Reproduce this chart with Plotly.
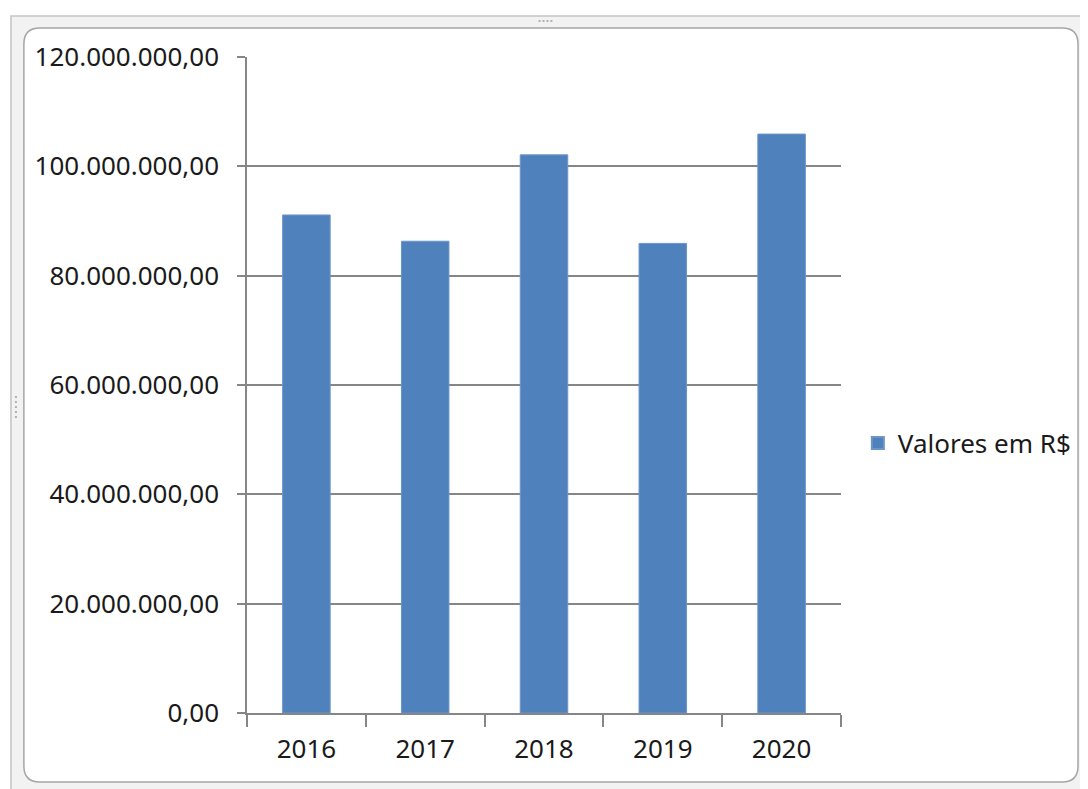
import plotly.graph_objects as go

years = ["2016", "2017", "2018", "2019", "2020"]
values = [91_100_000, 86_300_000, 102_100_000, 85_900_000, 105_900_000]
series_name = "Valores em R$"
y_tickvals = [0, 20_000_000, 40_000_000, 60_000_000, 80_000_000, 100_000_000, 120_000_000]
y_ticktext = ["0,00", "20.000.000,00", "40.000.000,00", "60.000.000,00",
              "80.000.000,00", "100.000.000,00", "120.000.000,00"]

# page has an 8px body margin; figure is sized so it ends at the window edge
OFF = 8
W, H = 1088 - OFF, 789 - OFF
# plot area in page pixels
L, R, T, B = 247, 846, 57, 713


def px(x):
    return (x - L) / (R - L)


def py(y):
    return (B - y) / (B - T)


def rrect(x0, y0, x1, y1, r):
    p = [
        f"M {px(x0 + r)} {py(y0)}",
        f"L {px(x1 - r)} {py(y0)}",
        f"Q {px(x1)} {py(y0)} {px(x1)} {py(y0 + r)}",
        f"L {px(x1)} {py(y1 - r)}",
        f"Q {px(x1)} {py(y1)} {px(x1 - r)} {py(y1)}",
        f"L {px(x0 + r)} {py(y1)}",
        f"Q {px(x0)} {py(y1)} {px(x0)} {py(y1 - r)}",
        f"L {px(x0)} {py(y0 + r)}",
        f"Q {px(x0)} {py(y0)} {px(x0 + r)} {py(y0)}",
        "Z",
    ]
    return " ".join(p)


shapes = [
    dict(type="rect", xref="paper", yref="paper", x0=px(9), y0=py(16), x1=px(1100), y1=py(800),
         fillcolor="#F2F2F2", line=dict(color="#C4C4C4", width=1.5), layer="below"),
    dict(type="path", xref="paper", yref="paper", path=rrect(22, 28, 1085, 782, 16),
         fillcolor="white", line=dict(color="#A6A6A6", width=1.5), layer="below"),
]
# small grip dots
for gx in [541, 545, 549, 553]:
    shapes.append(dict(type="rect", xref="paper", yref="paper", x0=px(gx), x1=px(gx + 2),
                       y0=py(20), y1=py(22), fillcolor="#B0B0B0", line=dict(width=0), layer="below"))
for gy in [396, 401, 406, 411, 416]:
    shapes.append(dict(type="rect", xref="paper", yref="paper", x0=px(13), x1=px(15),
                       y0=py(gy), y1=py(gy + 2), fillcolor="#B0B0B0", line=dict(width=0), layer="below"))

fig = go.Figure()
fig.add_trace(go.Bar(
    x=years, y=values, name=series_name,
    marker=dict(color="#4F81BD", line=dict(color="#6C95C8", width=1)),
    showlegend=True,
))

font_family = "Noto Sans, DejaVu Sans, sans-serif"

fig.update_layout(
    width=W, height=H,
    margin=dict(l=L - OFF, r=W - (R - OFF), t=T - OFF, b=H - (B - OFF), pad=0),
    paper_bgcolor="white", plot_bgcolor="white",
    bargap=0.6,
    font=dict(family=font_family, size=26, color="#1A1A1A"),
    shapes=shapes,
    showlegend=True,
    legend=dict(x=px(863), xanchor="left", y=py(443), yanchor="middle",
                font=dict(size=26, color="#1A1A1A"), bgcolor="rgba(0,0,0,0)",
                itemsizing="constant"),
    xaxis=dict(
        type="category", showline=True, linecolor="#868686", linewidth=1.5,
        ticks="outside", tickson="boundaries", ticklen=12, tickcolor="#868686", tickwidth=1.5,
        showgrid=False, tickfont=dict(size=26, color="#1A1A1A"),
        ticklabelstandoff=12,
    ),
    yaxis=dict(
        range=[0, 120_000_000], tickvals=y_tickvals, ticktext=y_ticktext,
        showline=True, linecolor="#868686", linewidth=1.5,
        ticks="outside", ticklen=8, tickcolor="#868686", tickwidth=1.5,
        showgrid=True, gridcolor="#868686", gridwidth=1.5,
        zeroline=False, tickfont=dict(size=26, color="#1A1A1A"),
        ticklabelstandoff=13,
    ),
)

fig.write_html("out.html", config={"displayModeBar": False})
